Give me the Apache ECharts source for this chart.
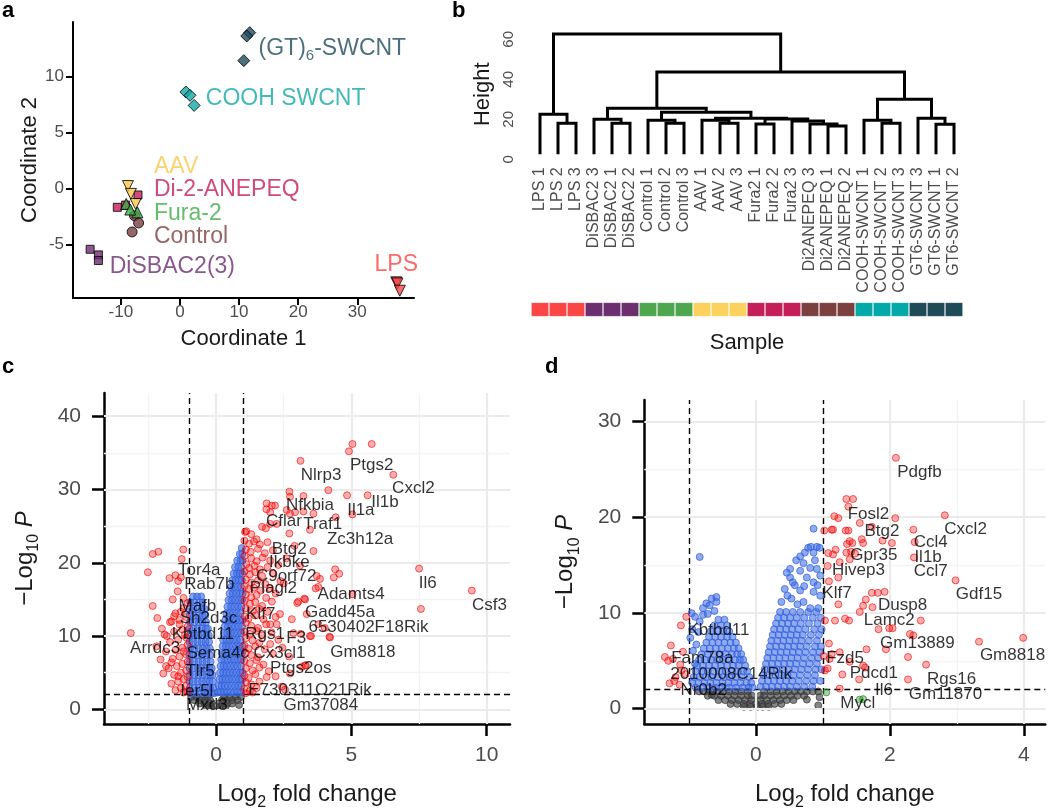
<!DOCTYPE html>
<html><head><meta charset="utf-8">
<script src="https://cdn.jsdelivr.net/npm/echarts@6/dist/echarts.min.js"></script>
<style>html,body{margin:0;padding:0;background:#fff}#c{width:1050px;height:812px}</style>
</head><body><div id="c"></div>
<script>
const FONT = '"Liberation Sans", Arial, Helvetica, sans-serif';

// ---------------- Panel a : MDS ----------------
const mdsGT6  = [[11.8,13.9],[11.3,13.6],[10.8,11.4]];
const mdsCOOH = [[1.0,8.6],[1.7,8.3],[2.4,7.4]];
const mdsAAV  = [[-8.8,0.2],[-8.3,-0.5],[-7.5,-1.4]];
const mdsDi2  = [[-7.1,-0.6],[-10.6,-1.7],[-9.2,-1.5]];
const mdsFura = [[-9.1,-1.4],[-7.2,-2.15],[-8.4,-1.9]];
const mdsCtrl = [[-7.7,-2.45],[-7.0,-3.1],[-8.1,-3.9]];
const mdsDiS  = [[-15.2,-5.45],[-13.8,-5.95],[-13.8,-6.45]];
const mdsLPS  = [[36.6,-8.4],[36.8,-8.5],[37.2,-9.15]];
const mdsXTicks = [-10,0,10,20,30];
const mdsYTicks = [-5,0,5,10];
const mdsLabelText = ['(GT){s|6}-SWCNT','COOH SWCNT','AAV','Di-2-ANEPEQ','Fura-2','Control','DiSBAC2(3)','LPS'];
const mdsLabelAt = [[13.3,12.5],[4.37,7.97],[-4.4,1.93],[-4.4,-0.09],[-4.4,-2.23],[-4.4,-4.32],[-11.88,-7.0],[36.6,-6.8]];
const mdsColors = ['#1e4b5b','#14a9a6','#f9c84a','#c51d5b','#3fab48','#7b3e3e','#6b2d6f','#fb4545'];

// ---------------- Panel b : dendrogram ----------------
const leafLabels = ['LPS 1','LPS 2','LPS 3','DiSBAC2 3','DiSBAC2 1','DiSBAC2 2','Control 1','Control 2','Control 3','AAV 1','AAV 2','AAV 3','Fura2 1','Fura2 2','Fura2 3','Di2ANEPEQ 3','Di2ANEPEQ 1','Di2ANEPEQ 2','COOH-SWCNT 1','COOH-SWCNT 2','COOH-SWCNT 3','GT6-SWCNT 3','GT6-SWCNT 1','GT6-SWCNT 2'];
const sampleGroups = ['LPS','DiSBAC2','Control','AAV','Fura2','Di2ANEPEQ','COOH-SWCNT','GT6-SWCNT'];
const sampleColors = ['#fb4646','#6b2f6f','#4ea64f','#fcd25c','#c41f58','#7d4040','#03a9a9','#1f4a58'];
// R-style merges: negative = leaf (1-based), positive = earlier merge (1-based), then height
const dendroMerges = [
  [-2,-3,18.0],[-1,1,22.5],[-5,-6,18.0],[-4,3,20.0],[-8,-9,18.0],[-7,5,19.5],
  [-11,-12,18.0],[-10,7,19.5],[-13,-14,17.6],[-17,-18,16.6],[-16,10,17.6],[-15,11,19.1],
  [9,12,20.1],[8,13,20.5],[6,14,23.5],[4,15,25.5],[-20,-21,18.0],[-19,17,19.5],
  [-23,-24,17.5],[-22,19,20.5],[18,20,30.0],[16,21,43.6],[2,22,62.6]
];
const leafBase = 2.5;
const heightTicks = [0,20,40,60];

// ---------------- Panel c : volcano (LPS) ----------------
const cRed = [
 [5.04,36.2],[5.75,36.2],[4.91,35.2],[3.12,33.9],[6.55,32.0],[4.15,29.9],[4.84,29.2],[5.6,29.2],[5.04,26.6],[4.42,26.2],
 [2.71,29.7],[2.73,29.0],[3.23,29.1],[1.87,28.1],[2.06,27.8],[2.18,27.8],[1.86,27.3],[2.0,26.9],[2.61,27.2],[2.73,26.7],
 [2.92,26.9],[3.6,26.7],[3.23,27.0],[2.0,25.3],[2.24,25.3],[1.7,24.9],[1.84,24.7],[2.71,24.0],[3.47,24.5],[1.07,24.2],
 [3.6,21.6],[4.4,19.1],[4.55,18.5],[4.35,18.0],[3.72,18.2],[3.84,17.8],[3.78,16.7],[7.5,19.2],[9.45,16.2],[7.57,13.7],
 [3.68,16.5],[3.26,15.1],[3.0,14.5],[5.04,15.7],[3.35,13.0],[3.78,11.6],[4.02,11.1],[4.21,9.8],[3.51,10.0],[3.29,6.0],
 [3.17,5.8],[2.06,14.7],[2.36,13.0],[3.04,14.7],[3.29,15.0],[2.0,11.6],[2.24,11.6],[2.86,10.4],[3.13,10.3],[3.47,10.0],
 [4.19,9.9],[3.32,6.0],[2.73,4.9],[1.87,4.4],[2.55,2.7],[2.43,3.1],[2.6,20.6],[2.9,22.3],[3.1,19.6],[2.5,17.2],[2.8,12.3],[2.45,8.4],[2.7,7.2],
 [1.12,24.3],[1.3,23.9],[1.5,23.2],[1.05,23.0],[1.22,22.6],[1.4,22.9],[1.62,22.5],[1.9,22.8],[1.1,21.8],[1.28,21.5],
 [1.55,21.9],[1.8,21.3],[2.1,21.7],[1.05,20.9],[1.3,20.6],[1.5,20.2],[1.72,20.7],[2.0,20.3],[1.12,19.8],[1.22,19.3],
 [1.42,19.6],[1.62,19.1],[1.9,19.4],[2.3,19.7],[1.05,18.8],[1.25,18.4],[1.45,18.7],[1.7,18.2],[2.12,18.5],[1.1,17.7],
 [1.3,17.3],[1.55,17.6],[1.82,17.1],[2.38,17.5],[1.05,16.8],[1.2,16.4],[1.4,16.6],[1.65,16.2],[2.0,16.5],[1.1,15.7],
 [1.3,15.3],[1.5,15.6],[1.85,15.2],[2.2,15.8],[1.05,14.8],[1.25,14.4],[1.45,14.6],[1.7,14.1],[1.1,13.8],[1.35,13.4],
 [1.6,13.7],[1.9,13.3],[1.05,12.7],[1.2,12.4],[1.45,12.8],[1.75,12.3],[2.2,12.6],[1.1,11.8],[1.3,11.4],[1.55,11.1],
 [1.85,11.6],[1.05,10.6],[1.25,10.3],[1.5,10.7],[1.7,10.1],[2.05,10.5],[1.1,9.7],[1.35,9.4],[1.6,9.1],[2.3,9.5],
 [1.05,8.7],[1.2,8.3],[1.45,8.6],[1.8,8.2],[2.0,8.9],[1.1,7.7],[1.3,7.4],[1.55,7.1],[2.1,7.6],[1.05,6.6],
 [1.25,6.3],[1.5,6.7],[1.75,6.1],[1.1,5.6],[1.35,5.3],[1.6,5.7],[1.95,5.2],[1.05,4.6],[1.2,4.3],[1.45,4.8],
 [2.2,4.5],[1.1,3.7],[1.3,3.4],[1.6,3.8],[1.05,2.8],[1.25,2.5],[1.5,2.9],[1.1,2.2],[1.35,2.3],
 [-1.05,14.5],[-1.2,13.8],[-1.5,13.1],[-1.1,12.6],[-1.35,12.2],[-1.7,11.9],[-1.05,11.3],[-1.25,10.9],[-1.55,10.6],[-1.9,10.2],
 [-1.1,9.8],[-1.4,9.5],[-1.7,9.2],[-1.05,8.8],[-1.25,8.4],[-1.5,8.1],[-1.85,7.9],[-1.1,7.5],[-1.35,7.2],[-1.6,6.9],
 [-1.05,6.5],[-1.25,6.2],[-1.45,5.9],[-1.75,5.6],[-1.1,5.3],[-1.3,5.0],[-1.55,4.7],[-1.05,4.4],[-1.2,4.1],[-1.4,3.8],
 [-1.65,3.5],[-1.1,3.2],[-1.3,2.9],[-1.05,2.5],[-1.2,2.3],[-1.5,2.6],[-2.05,6.8],[-1.95,4.9],[-2.2,8.6],[-2.0,11.0],
 [-1.85,5.9],[-1.65,6.4],[-1.15,10.2],[-1.35,11.6],[-1.2,7.9],[-1.4,4.5],
 [-2.34,21.2],[-2.13,21.5],[-1.21,21.8],[-1.27,20.5],[-2.52,18.7],[-1.72,17.9],[-1.5,18.3],[-1.4,17.5],[-1.3,18.0],[-1.42,16.1],
 [-2.34,14.1],[-2.17,12.45],[-3.15,10.4],[-1.82,10.0],[-1.64,12.0],[-1.55,12.7],[-1.3,13.3],[-1.2,15.2],[-1.6,15.0]
];
// blue rows: [y, [x...]]
const cBlueRows = [
 [15.4,[-0.85,-0.7,-0.55]],[14.6,[-0.95,-0.8,-0.62,-0.5]],[13.7,[-0.98,-0.84,-0.68,-0.52,-0.42]],
 [12.8,[-0.97,-0.82,-0.66,-0.5,-0.4]],[11.9,[-0.96,-0.8,-0.64,-0.5,-0.37]],[11.0,[-0.98,-0.83,-0.68,-0.52,-0.38,-0.3]],
 [10.1,[-0.97,-0.81,-0.65,-0.5,-0.36,-0.27]],[9.2,[-0.98,-0.84,-0.68,-0.53,-0.39,-0.26]],[8.3,[-0.96,-0.8,-0.64,-0.49,-0.35,-0.23]],
 [7.4,[-0.98,-0.83,-0.67,-0.52,-0.37,-0.22]],[6.5,[-0.97,-0.81,-0.65,-0.5,-0.35,-0.2]],[5.6,[-0.98,-0.83,-0.67,-0.52,-0.37,-0.24,-0.16]],
 [4.7,[-0.97,-0.81,-0.65,-0.5,-0.35,-0.22,-0.13]],[3.8,[-0.98,-0.83,-0.67,-0.52,-0.37,-0.24,-0.12]],[2.9,[-0.97,-0.81,-0.65,-0.5,-0.35,-0.22,-0.1]],
 [2.2,[-0.95,-0.78,-0.6,-0.44,-0.3,-0.17,-0.07]],
 [22.0,[0.95]],[21.2,[0.88,0.97]],[20.3,[0.78,0.9,0.98]],[19.4,[0.7,0.82,0.94]],[18.5,[0.65,0.77,0.88,0.97]],
 [17.6,[0.6,0.72,0.84,0.95]],[16.7,[0.55,0.67,0.8,0.92]],[15.8,[0.5,0.62,0.75,0.88,0.98]],[14.9,[0.46,0.58,0.71,0.84,0.96]],
 [14.0,[0.42,0.55,0.68,0.81,0.94]],[13.1,[0.38,0.5,0.63,0.77,0.9]],[12.2,[0.35,0.47,0.6,0.73,0.86,0.98]],
 [11.3,[0.32,0.44,0.57,0.7,0.83,0.96]],[10.4,[0.29,0.41,0.54,0.67,0.8,0.93]],[9.5,[0.26,0.38,0.51,0.64,0.77,0.9]],
 [8.6,[0.24,0.36,0.48,0.61,0.74,0.87,0.98]],[7.7,[0.21,0.33,0.45,0.58,0.71,0.84,0.96]],[6.8,[0.19,0.3,0.42,0.55,0.68,0.81,0.94]],
 [5.9,[0.17,0.28,0.4,0.53,0.66,0.79,0.92]],[5.0,[0.15,0.26,0.38,0.5,0.63,0.76,0.89,0.98]],[4.1,[0.13,0.23,0.35,0.47,0.6,0.73,0.86,0.96]],
 [3.2,[0.1,0.2,0.32,0.44,0.57,0.7,0.83,0.94]],[2.3,[0.07,0.17,0.29,0.41,0.54,0.67,0.8,0.92]]
];
const cGreyRows = [
 [1.7,[-0.92,-0.72,-0.5,-0.3,0.3,0.5,0.72,0.92]],[1.25,[-0.8,-0.6,-0.4,-0.22,0.22,0.4,0.6,0.8]],
 [0.8,[-0.6,-0.42,-0.25,-0.1,0.1,0.25,0.42,0.6]],[0.35,[-0.35,-0.18,-0.05,0.05,0.18,0.35]],[0.6,[0.85]]
];
const cGenes = ['Ptgs2','Nlrp3','Cxcl2','Il1b','Nfkbia','Il1a','Cflar','Traf1','Zc3h12a','Btg2','Ikbke','Tor4a','C9orf72','Il6','Rab7b','Plagl2','Adamts4','Csf3','Mafb','Gadd45a','Sh2d3c','Klf7','6530402F18Rik','Kbtbd11','Rgs1','F3','Arrdc3','Sema4c','Cx3cl1','Gm8818','Tlr5','Ptgs2os','Ier5l','E730311O21Rik','Mxd3','Gm37084'];
const cGeneX = [5.75,3.88,7.29,6.24,3.47,5.35,2.51,3.94,5.32,2.70,2.71,-0.62,2.59,7.82,-0.25,2.12,4.99,10.1,-0.69,4.58,-0.28,1.65,5.63,-0.49,1.81,2.96,-2.25,0.06,2.34,5.42,-0.59,3.13,-0.71,3.47,-0.34,3.87];
const cGeneY = [33.25,31.9,30.1,28.3,27.8,27.2,25.7,25.3,23.25,21.9,20.0,19.0,18.1,17.25,17.0,16.45,15.7,14.2,14.1,13.2,12.45,12.9,11.25,10.3,10.3,9.7,8.36,7.7,7.7,7.8,5.25,5.55,2.45,2.58,0.53,0.58];
const cXTicks = [0,5,10], cYTicks = [0,10,20,30,40];
const cXMinor = [-2.5,2.5,7.5], cYMinor = [5,15,25,35];

// ---------------- Panel d : volcano ----------------
const dRed = [
 [2.09,26.2],[1.35,21.9],[1.45,21.9],[1.38,21.1],[1.17,20.1],[1.23,19.9],[1.55,19.4],[2.08,19.9],[2.82,20.2],[1.73,19.0],
 [1.02,18.6],[1.13,18.7],[1.15,18.7],[1.34,18.6],[1.38,18.6],[2.35,18.7],[1.58,17.7],[1.6,17.3],[1.4,17.5],[1.44,17.3],
 [1.36,17.2],[1.89,17.55],[2.03,17.3],[2.37,17.4],[1.08,16.25],[1.15,16.1],[1.19,16.6],[1.35,16.3],[1.42,16.4],[1.48,16.2],
 [1.4,15.6],[1.25,15.3],[2.36,15.8],[1.07,14.9],[1.23,13.7],[1.09,13.3],[2.98,13.4],[1.23,10.9],[1.64,11.4],[1.6,10.75],
 [1.73,12.1],[1.82,12.1],[1.92,12.2],[1.74,10.6],[1.03,9.2],[1.18,9.2],[1.33,9.4],[1.39,9.2],[1.55,10.1],[2.46,9.2],
 [1.83,8.3],[1.99,8.4],[2.04,8.4],[2.3,7.8],[2.35,7.65],[1.09,6.8],[1.65,6.2],[1.94,6.2],[3.33,7.0],[3.99,7.4],
 [1.01,5.5],[1.1,5.2],[1.13,5.7],[1.25,5.9],[1.4,4.9],[1.6,4.5],[1.63,4.3],[2.27,5.4],[2.54,4.6],[1.07,4.2],
 [1.03,4.0],[1.29,3.57],[1.54,3.06],[2.27,3.06],[1.25,2.1],
 [-1.04,9.6],[-1.12,8.7],[-1.27,6.6],[-1.09,5.95],[-1.36,5.4],[-1.31,5.0],[-1.24,5.2],[-1.13,4.6],[-1.11,4.0],[-1.29,2.65],
 [-1.14,2.5],[-1.2,3.3],[-1.05,3.6],[-1.22,2.9]
];
const dGreen = [[1.05,1.7],[1.6,1.0],[1.55,0.95]];
const dBlueSparse = [
 [-0.96,9.97],[-0.91,9.6],[-0.79,9.8],[-0.84,9.1],[-0.89,6.7],[-0.94,6.05],[-0.91,4.7],[-0.74,11.0],[-0.66,11.5],[-0.59,11.66],
 [-0.59,11.15],[-0.69,10.8],[-0.79,10.5],[-0.84,15.85],[-0.95,8.3],[-0.98,7.4],[-0.86,8.0],[-0.62,10.2],[-0.72,9.9],
 [0.86,18.8],[0.78,16.8],[0.82,16.9],[0.91,16.9],[0.95,16.8],[0.86,16.3],[0.73,16.3],[0.66,15.9],[0.71,15.2],[0.51,14.6],
 [0.46,14.2],[0.66,14.4],[0.81,14.7],[0.91,14.6],[0.96,13.9],[0.51,13.7],[0.76,13.7],[0.86,13.2],[0.58,12.9],[0.43,12.5],
 [0.66,12.35],[0.86,12.2],[0.96,11.8],[0.38,11.15],[0.53,11.5],[0.71,11.15],[0.81,10.5],[0.93,10.5],[0.6,15.5],[0.55,13.2],
 [0.47,11.8],[0.62,10.9],[0.72,12.8],[0.88,15.5],[0.92,12.9]
];
const dBlueRows = [
 [9.3,[-0.56,-0.47]],[8.7,[-0.62,-0.52,-0.43]],[8.1,[-0.67,-0.58,-0.49,-0.4]],[7.5,[-0.7,-0.61,-0.52,-0.43,-0.35]],
 [6.9,[-0.74,-0.65,-0.56,-0.47,-0.38,-0.3]],[6.3,[-0.78,-0.69,-0.6,-0.51,-0.42,-0.33,-0.26]],
 [5.7,[-0.81,-0.72,-0.63,-0.54,-0.45,-0.36,-0.28,-0.22]],[5.1,[-0.85,-0.76,-0.67,-0.58,-0.49,-0.4,-0.31,-0.24,-0.19]],
 [4.5,[-0.88,-0.79,-0.7,-0.61,-0.52,-0.43,-0.34,-0.26,-0.16]],[3.9,[-0.9,-0.81,-0.72,-0.63,-0.54,-0.45,-0.36,-0.27,-0.19,-0.13]],
 [3.3,[-0.93,-0.84,-0.75,-0.66,-0.57,-0.48,-0.39,-0.3,-0.21,-0.1]],[2.7,[-0.95,-0.86,-0.77,-0.68,-0.59,-0.5,-0.41,-0.32,-0.23,-0.14,-0.07]],
 [2.2,[-0.9,-0.8,-0.7,-0.6,-0.5,-0.4,-0.3,-0.2,-0.11,-0.05]],
 [10.1,[0.36,0.45,0.55,0.66,0.78,0.9]],[9.5,[0.33,0.42,0.51,0.61,0.72,0.85,0.97]],[8.9,[0.3,0.39,0.48,0.57,0.67,0.79,0.92]],
 [8.3,[0.27,0.36,0.45,0.54,0.63,0.74,0.87,0.98]],[7.7,[0.25,0.34,0.43,0.52,0.61,0.7,0.82,0.94]],[7.1,[0.23,0.32,0.41,0.5,0.59,0.68,0.79,0.91]],
 [6.5,[0.21,0.3,0.39,0.48,0.57,0.66,0.76,0.88,0.97]],[5.9,[0.19,0.28,0.37,0.46,0.55,0.64,0.74,0.85,0.95]],
 [5.3,[0.17,0.26,0.35,0.44,0.53,0.62,0.72,0.83,0.93]],[4.7,[0.15,0.24,0.33,0.42,0.51,0.6,0.7,0.8,0.91]],
 [4.1,[0.13,0.22,0.31,0.4,0.49,0.58,0.68,0.78,0.89,0.98]],[3.5,[0.11,0.2,0.29,0.38,0.47,0.56,0.66,0.77,0.88]],
 [2.9,[0.09,0.18,0.27,0.36,0.45,0.54,0.64,0.75,0.86,0.96]],[2.3,[0.07,0.15,0.24,0.33,0.42,0.51,0.61,0.72,0.84]]
];
const dGreyRows = [
 [1.8,[-0.85,-0.76,-0.67,-0.58,-0.49,-0.4,-0.31,-0.22,-0.12,0.12,0.22,0.31,0.4,0.49,0.58,0.67,0.76,0.85,0.93]],
 [1.35,[-0.72,-0.62,-0.52,-0.42,-0.32,-0.22,-0.12,-0.06,0.06,0.12,0.22,0.32,0.42,0.52,0.62,0.72]],
 [0.9,[-0.56,-0.46,-0.36,-0.26,-0.16,-0.07,0.07,0.16,0.26,0.36,0.46,0.56]],
 [0.5,[-0.38,-0.28,-0.18,-0.09,0,0.09,0.18,0.28,0.38]],[0.2,[-0.18,-0.08,0.02,0.1,0.19]],
 [0.34,[0.93]],[0.95,[0.76]],[1.46,[-0.66]],[1.2,[0.95]]
];
const dGenes = ['Pdgfb','Fosl2','Cxcl2','Btg2','Ccl4','Gpr35','Il1b','Hivep3','Ccl7','Gdf15','Klf7','Dusp8','Lamc2','Kbtbd11','Gm13889','Gm8818','Fam78a','Fzd5','2010008C14Rik','Pdcd1','Rgs16','Nr0b2','Il6','Gm11870','Mycl'];
const dGeneX = [2.44,1.68,3.13,1.88,2.61,1.76,2.57,1.53,2.61,3.33,1.21,2.19,1.99,-0.56,2.41,3.83,-0.80,1.33,-0.37,1.76,2.92,-0.78,1.91,2.83,1.52];
const dGeneY = [24.7,20.3,18.75,18.5,17.35,16.05,15.85,14.5,14.35,11.97,12.07,10.75,9.18,8.16,6.8,5.54,5.27,5.31,3.57,3.67,3.06,1.97,1.9,1.53,0.61];
const dXTicks = [0,2,4], dYTicks = [0,10,20,30];
const dXMinor = [-1,1,3], dYMinor = [5,15,25];
const fcCut = [-1,1], pCut = 2;

// ---------------- build ----------------
const rows = r => r.flatMap(([y,xs]) => xs.map(x => [x,y]));

function valAxis(grid, min, max, ticks, o) {
  return Object.assign({
    type:'value', gridIndex:grid, min:min, max:max,
    axisLine:{show:true, onZero:false, lineStyle:{color:'#000', width:o.lw}},
    axisTick:{show:true, length:o.tl, customValues:ticks, lineStyle:{color:'#000', width:o.lw}},
    axisLabel:{customValues:ticks, color:'#4d4d4d', fontSize:o.fs, margin:o.margin, fontFamily:FONT},
    splitLine:{show:false}
  }, o.extra || {});
}
const titleRich = fs => ({
  n:{fontSize:fs, color:'#1a1a1a', fontFamily:FONT},
  s:{fontSize:Math.round(fs*0.65), color:'#1a1a1a', fontFamily:FONT, padding:[Math.round(fs*0.7),0,0,0]},
  i:{fontSize:fs, color:'#1a1a1a', fontFamily:FONT, fontStyle:'italic'}
});

function gridLines(xi, yi, xMaj, xMin, yMaj, yMin) {
  const maj = {color:'#ebebeb', width:2.2, type:'solid'}, mn = {color:'#f3f3f3', width:1.3, type:'solid'};
  return {type:'scatter', xAxisIndex:xi, yAxisIndex:yi, data:[], silent:true, z:1,
    markLine:{silent:true, symbol:['none','none'], label:{show:false}, animation:false,
      data:[].concat(
        xMin.map(v=>({xAxis:v, lineStyle:mn})), yMin.map(v=>({yAxis:v, lineStyle:mn})),
        xMaj.map(v=>({xAxis:v, lineStyle:maj})), yMaj.map(v=>({yAxis:v, lineStyle:maj})))}};
}
function pts(xi, yi, data, fill, stroke, z) {
  return {type:'scatter', xAxisIndex:xi, yAxisIndex:yi, data:data, symbol:'circle', symbolSize:7,
    silent:true, z:z, itemStyle:{color:fill, borderColor:stroke, borderWidth:1}};
}
function geneLabels(xi, yi, names, xs, ys) {
  return {type:'scatter', xAxisIndex:xi, yAxisIndex:yi, symbolSize:0, silent:true, z:20,
    data:names.map((n,i)=>({name:n, value:[xs[i], ys[i]]})),
    label:{show:true, position:[0,0], align:'center', verticalAlign:'middle', formatter:'{b}',
      color:'#000', fontSize:17, fontFamily:FONT},
    markLine:{silent:true, symbol:['none','none'], label:{show:false}, animation:false,
      lineStyle:{color:'#000', width:1.4, type:[6,4]},
      data:[{xAxis:fcCut[0]},{xAxis:fcCut[1]},{yAxis:pCut}]}};
}

// dendrogram segments
const nodeX = [], nodeH = [];
const dendroSegs = dendroMerges.map(([a,b,h]) => {
  const pa = a < 0 ? [-a-1, leafBase] : [nodeX[a-1], nodeH[a-1]];
  const pb = b < 0 ? [-b-1, leafBase] : [nodeX[b-1], nodeH[b-1]];
  nodeX.push((pa[0]+pb[0])/2); nodeH.push(h);
  return [pa[0], pa[1], pb[0], pb[1], h];
});

const mdsSets = [
  {d:mdsCtrl, c:mdsColors[5], s:'circle', sz:10, r:0},
  {d:mdsDi2,  c:mdsColors[3], s:'rect', sz:8, r:0},
  {d:mdsAAV,  c:mdsColors[2], s:'triangle', sz:11, r:180},
  {d:mdsFura, c:mdsColors[4], s:'triangle', sz:11, r:0},
  {d:mdsDiS,  c:mdsColors[6], s:'rect', sz:8, r:0},
  {d:mdsCOOH, c:mdsColors[1], s:'diamond', sz:12, r:0},
  {d:mdsGT6,  c:mdsColors[0], s:'diamond', sz:12, r:0},
  {d:mdsLPS,  c:mdsColors[7], s:'triangle', sz:11, r:180}
];

const series = [];
mdsSets.forEach(m => series.push({type:'scatter', xAxisIndex:0, yAxisIndex:0, data:m.d, symbol:m.s,
  symbolSize:m.sz, symbolRotate:m.r, silent:true, z:3,
  itemStyle:{color:m.c, borderColor:'#000', borderWidth:1}}));
series.push({type:'scatter', xAxisIndex:0, yAxisIndex:0, symbolSize:0, silent:true, z:5,
  data:mdsLabelText.map((t,i)=>({name:t, value:mdsLabelAt[i],
    label:{color:mdsColors[i], align:i===7?'center':'left',
      rich:{s:{fontSize:15, color:mdsColors[i], fontFamily:FONT, padding:[15,0,0,0]}}}})),
  label:{show:true, position:[0,0], verticalAlign:'middle', formatter:'{b}', fontSize:23, fontFamily:FONT}});

series.push({type:'custom', xAxisIndex:1, yAxisIndex:1, data:dendroSegs, silent:true, z:3,
  encode:{x:[0,2], y:[1,3,4]},
  renderItem:(p, api) => {
    const x1=api.value(0), h1=api.value(1), x2=api.value(2), h2=api.value(3), H=api.value(4);
    return {type:'polyline', shape:{points:[api.coord([x1,h1]),api.coord([x1,H]),api.coord([x2,H]),api.coord([x2,h2])]},
      style:{stroke:'#000', lineWidth:3, fill:null}};
  }});
series.push({type:'bar', xAxisIndex:3, yAxisIndex:2, barCategoryGap:'0%', silent:true,
  data:leafLabels.map(l => ({value:1, itemStyle:{color:sampleColors[sampleGroups.indexOf(l.replace(/ \d+$/,''))],
    borderColor:'rgba(255,255,255,0.12)', borderWidth:1}}))});

series.push(gridLines(4, 3, cXTicks, cXMinor, cYTicks, cYMinor));
series.push(pts(4, 3, rows(cGreyRows), 'rgba(64,64,64,0.8)', 'rgba(55,55,55,0.9)', 4));
series.push(pts(4, 3, rows(cBlueRows), 'rgba(58,106,226,0.75)', 'rgba(50,95,220,0.9)', 5));
series.push(pts(4, 3, cRed, 'rgba(255,0,0,0.4)', 'rgba(235,0,0,0.75)', 6));
series.push(geneLabels(4, 3, cGenes, cGeneX, cGeneY));

series.push(gridLines(5, 4, dXTicks, dXMinor, dYTicks, dYMinor));
series.push(pts(5, 4, rows(dGreyRows), 'rgba(64,64,64,0.8)', 'rgba(55,55,55,0.9)', 4));
series.push(pts(5, 4, rows(dBlueRows).concat(dBlueSparse), 'rgba(58,106,226,0.7)', 'rgba(50,95,220,0.9)', 5));
series.push(pts(5, 4, dGreen, 'rgba(34,139,34,0.5)', 'rgba(34,139,34,0.8)', 5));
series.push(pts(5, 4, dRed, 'rgba(255,0,0,0.4)', 'rgba(235,0,0,0.75)', 6));
series.push(geneLabels(5, 4, dGenes, dGeneX, dGeneY));

const aOpt = {lw:2, tl:7, fs:17, margin:6};
const cOpt = {lw:2.5, tl:12, fs:21, margin:21};

const option = {
  animation:false,
  backgroundColor:'#fff',
  textStyle:{fontFamily:FONT},
  grid:[
    {left:73, top:22, width:341, height:276},
    {left:531, top:29.3, width:432, height:130},
    {left:531, top:302.3, width:432, height:14.4},
    {left:104, top:393, width:406, height:338.7},
    {left:644.3, top:400, width:401, height:331.7}
  ],
  xAxis:[
    valAxis(0, -18.1, 39.6, mdsXTicks, Object.assign({}, aOpt, {extra:{name:'Coordinate 1', nameLocation:'middle', nameGap:30,
      nameTextStyle:{fontSize:22, color:'#1a1a1a', fontFamily:FONT}}})),
    {type:'value', gridIndex:1, min:-0.5, max:23.5, show:false},
    {type:'category', gridIndex:1, data:leafLabels, position:'bottom', boundaryGap:true,
      axisLine:{show:false}, axisTick:{show:false}, splitLine:{show:false},
      axisLabel:{rotate:90, interval:0, margin:8, fontSize:16, color:'#4d4d4d', fontFamily:FONT}},
    {type:'category', gridIndex:2, data:leafLabels, axisLine:{show:false}, axisTick:{show:false},
      axisLabel:{show:false}, splitLine:{show:false},
      name:'Sample', nameLocation:'middle', nameGap:15, nameTextStyle:{fontSize:22, color:'#1a1a1a', fontFamily:FONT}},
    valAxis(3, -4.14, 10.86, cXTicks, Object.assign({}, cOpt, {extra:{name:'{n|Log}{s|2}{n| fold change}', nameLocation:'middle', nameGap:54,
      nameTextStyle:{rich:titleRich(24)}}})),
    valAxis(4, -1.667, 4.32, dXTicks, Object.assign({}, cOpt, {extra:{name:'{n|Log}{s|2}{n| fold change}', nameLocation:'middle', nameGap:54,
      nameTextStyle:{rich:titleRich(24)}}}))
  ],
  yAxis:[
    valAxis(0, -9.8, 14.85, mdsYTicks, Object.assign({}, aOpt, {margin:9, extra:{name:'Coordinate 2', nameLocation:'middle', nameGap:32,
      nameTextStyle:{fontSize:22, color:'#1a1a1a', fontFamily:FONT}}})),
    {type:'value', gridIndex:1, min:0, max:65, axisLine:{show:false}, axisTick:{show:false}, splitLine:{show:false},
      axisLabel:{customValues:heightTicks, rotate:90, fontSize:15, color:'#4d4d4d', margin:15, fontFamily:FONT},
      name:'Height', nameLocation:'middle', nameGap:37, nameTextStyle:{fontSize:22, color:'#1a1a1a', fontFamily:FONT}},
    {type:'value', gridIndex:2, min:0, max:1, show:false},
    valAxis(3, -2.0, 43.16, cYTicks, Object.assign({}, cOpt, {margin:23, extra:{name:'{n|−Log}{s|10}{i| P}', nameLocation:'middle', nameGap:62,
      nameTextStyle:{rich:titleRich(24)}}})),
    valAxis(4, -1.6, 32.24, dYTicks, Object.assign({}, cOpt, {margin:23, extra:{name:'{n|−Log}{s|10}{i| P}', nameLocation:'middle', nameGap:62,
      nameTextStyle:{rich:titleRich(24)}}}))
  ],
  graphic:[
    {type:'text', style:{x:2, y:10.5, text:'a', verticalAlign:'middle', font:'bold 22px ' + FONT, fill:'#000'}},
    {type:'text', style:{x:452, y:10.5, text:'b', verticalAlign:'middle', font:'bold 22px ' + FONT, fill:'#000'}},
    {type:'text', style:{x:2, y:367, text:'c', verticalAlign:'middle', font:'bold 22px ' + FONT, fill:'#000'}},
    {type:'text', style:{x:545, y:367, text:'d', verticalAlign:'middle', font:'bold 22px ' + FONT, fill:'#000'}}
  ],
  series:series
};
const chart = echarts.init(document.getElementById('c'), null, {renderer:'canvas', width:1050, height:812});
chart.setOption(option);
</script></body></html>
